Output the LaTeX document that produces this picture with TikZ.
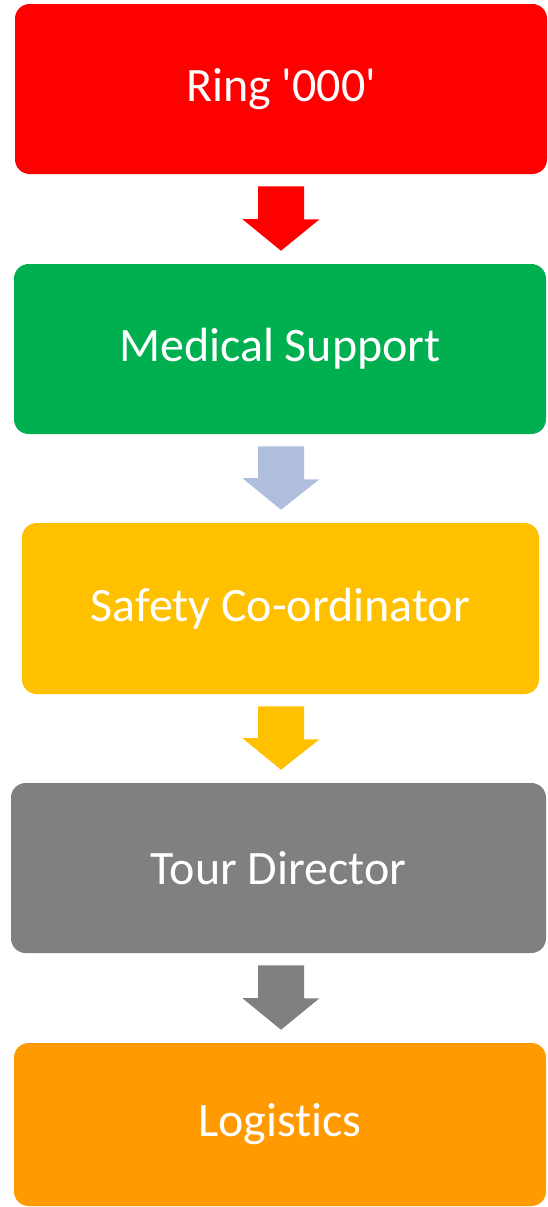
\documentclass[tikz,border=0pt]{standalone}
\usepackage{fontspec}
\setmainfont[Ligatures={NoCommon}]{Carlito}
\usepackage{tikz}
\usetikzlibrary{calc}

\definecolor{ringred}{RGB}{255,0,0}
\definecolor{medgreen}{RGB}{0,176,80}
\definecolor{paleblue}{RGB}{176,190,222}
\definecolor{safeyellow}{RGB}{255,192,0}
\definecolor{tourgrey}{RGB}{128,128,128}
\definecolor{logorange}{RGB}{255,154,0}

\tikzset{
  stagebox/.style={rounded corners=11pt, text=white, inner sep=0pt,
    font=\fontsize{36}{42}\selectfont}
}

\begin{document}
\begin{tikzpicture}[x=0.75pt,y=0.75pt]
\useasboundingbox (0,0) rectangle (547,-1207);

\node[stagebox, fill=ringred, minimum width=532*0.75pt, minimum height=170*0.75pt] (ring) at (281,-89) {Ring \textquotesingle 000\textquotesingle};
\node[stagebox, fill=medgreen, minimum width=532*0.75pt, minimum height=170*0.75pt] (medical) at (280,-349) {Medical Support};
\node[stagebox, fill=safeyellow, minimum width=517*0.75pt, minimum height=171*0.75pt] (safety) at (280.5,-608.5) {Safety Co-ordinator};
\node[stagebox, fill=tourgrey, minimum width=535*0.75pt, minimum height=170*0.75pt] (tour) at (278.5,-868) {Tour Director};
\node[stagebox, fill=logorange, minimum width=532*0.75pt, minimum height=163*0.75pt] (logistics) at (280,-1124.5) {Logistics};

% block arrows between the boxes
\foreach \a/\b/\c in {ring/medical/ringred, medical/safety/paleblue, safety/tour/safeyellow, tour/logistics/tourgrey}
  \fill[\c] (\a.south -| ring.south) ++(-23,-12) -- ++(46,0) -- ++(0,-33) -- ++(15.5,0)
    -- ($(\b.north -| ring.south)+(0,13)$) -- ++(-38.5,31.5) -- ++(15.5,0) -- cycle;

\end{tikzpicture}
\end{document}
